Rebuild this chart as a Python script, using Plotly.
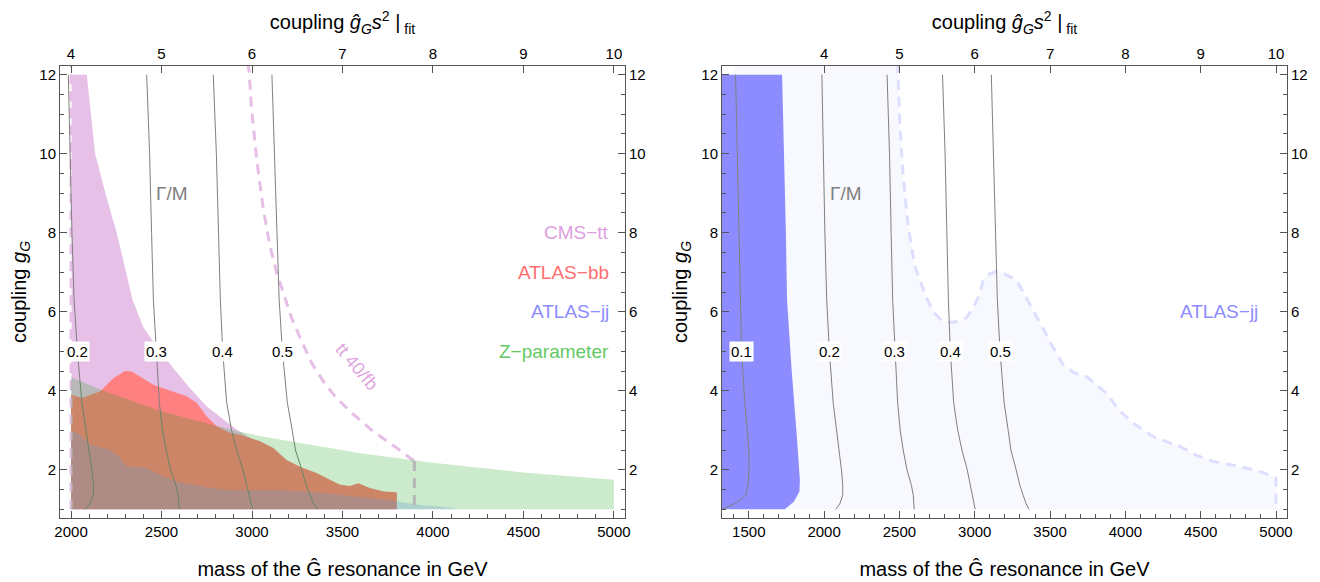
import plotly.graph_objects as go

# ---------------- data ----------------
# Gamma/M contour lines: coupling values and masses for each width ratio
GM_Y = [1.0, 1.15, 1.35, 1.6, 2.0, 2.5, 3.0, 3.7, 5.0, 6.3, 8.0, 10.0, 12.0]
GM_LINES = {
    "0.1": [1320, 1410, 1478, 1495, 1502, 1500, 1490, 1473, 1452, 1445, 1437, 1427, 1412],
    "0.2": [2078, 2105, 2123, 2124, 2115, 2098, 2080, 2060, 2035, 2017, 2005, 1995, 1985],
    "0.3": [2598, 2596, 2592, 2580, 2550, 2525, 2505, 2488, 2470, 2455, 2445, 2434, 2418],
    "0.4": [3003, 2995, 2985, 2975, 2950, 2915, 2887, 2860, 2838, 2825, 2815, 2803, 2786],
    "0.5": [3360, 3340, 3322, 3300, 3275, 3240, 3222, 3195, 3168, 3150, 3138, 3125, 3110],
}
LEFT_LINES = ["0.2", "0.3", "0.4", "0.5"]
RIGHT_LINES = ["0.1", "0.2", "0.3", "0.4", "0.5"]
LABEL_Y = 5.0

# CMS-tt excluded region (left panel)
CMS_TT_M = [2003, 2003, 2087, 2110, 2133, 2190, 2252, 2304, 2340, 2400, 2492, 2560, 2650,
            2750, 2850, 2920, 3030, 3100, 3300, 3500, 3800, 3800]
CMS_TT_G = [1.0, 12.0, 12.0, 11.0, 10.0, 9.0, 8.0, 7.0, 6.3, 5.6, 5.0, 4.6, 4.1,
            3.6, 3.25, 3.0, 2.7, 2.5, 1.9, 1.6, 1.4, 1.0]

# ATLAS-bb excluded region
ATLAS_BB_M = [2000, 2000, 2059, 2100, 2160, 2234, 2298, 2335, 2381, 2455, 2529, 2584, 2639,
              2695, 2750, 2805, 2879, 2934, 3044, 3118, 3191, 3265, 3357, 3431, 3486, 3541,
              3587, 3652, 3726, 3800, 3800]
ATLAS_BB_G = [1.0, 3.90, 3.82, 3.88, 3.98, 4.32, 4.50, 4.49, 4.36, 4.15, 4.03, 3.94, 3.86,
              3.69, 3.35, 3.10, 2.93, 2.89, 2.72, 2.55, 2.25, 2.08, 1.92, 1.75, 1.62, 1.59,
              1.66, 1.54, 1.45, 1.43, 1.0]

# ATLAS-jj excluded region (left panel)
ATLAS_JJ_L_M = [2000, 2000, 2050, 2105, 2160, 2215, 2271, 2308, 2363, 2418, 2492, 2584, 2676,
                2768, 2860, 2971, 3118, 3302, 3486, 3670, 3800, 3928, 4039, 4100, 4150]
ATLAS_JJ_L_G = [1.0, 3.01, 2.89, 2.63, 2.57, 2.51, 2.30, 2.08, 2.08, 2.04, 1.87, 1.70, 1.62,
                1.54, 1.49, 1.49, 1.49, 1.45, 1.37, 1.28, 1.20, 1.11, 1.07, 1.04, 1.0]

# Z-parameter bound (upper edge)
Z_M = [2000, 2160, 2500, 2880, 3050, 3600, 4000, 4500, 5000]
Z_G = [4.35, 4.03, 3.48, 3.02, 2.85, 2.42, 2.18, 1.93, 1.75]
Z_FLOOR = 1.0

# tt 40/fb projected reach (dashed)
TT40_LEFT_M = [2000, 2000]
TT40_LEFT_G = [1.0, 12.3]
TT40_M = [2975, 2983, 2998, 3026, 3063, 3100, 3137, 3173, 3219, 3260, 3330, 3394, 3459,
          3541, 3670, 3800, 3897]
TT40_G = [12.3, 12.13, 11.11, 9.85, 8.58, 7.65, 6.98, 6.47, 5.84, 5.40, 4.70, 4.24, 3.86,
          3.48, 2.97, 2.55, 2.22]
TT40_DROP_M = [3897, 3897]
TT40_DROP_G = [2.22, 1.0]

# Right panel: ATLAS-jj present exclusion (solid) and projection (dashed, light)
JJ_NOW_M = [1300, 1300, 1721, 1735, 1746, 1754, 1783, 1817, 1839, 1836, 1800, 1739]
JJ_NOW_G = [1.0, 12.0, 12.0, 10.0, 8.0, 6.3, 4.6, 2.93, 1.75, 1.45, 1.2, 1.0]
JJ_PROJ_M = [2488, 2491, 2503, 2525, 2558, 2602, 2680, 2724, 2780, 2835, 2900, 2945, 2990,
             3034, 3056, 3100, 3145, 3200, 3278, 3322, 3400, 3454, 3520, 3587, 3660, 3742,
             3875, 3960, 4052, 4185, 4362, 4470, 4583, 4760, 4900, 5000, 5000]
JJ_PROJ_G = [12.3, 12.0, 10.69, 9.43, 8.16, 7.15, 6.35, 6.0, 5.78, 5.73, 5.76, 5.85, 6.1,
             6.45, 6.8, 6.96, 7.02, 6.95, 6.8, 6.5, 5.95, 5.54, 5.1, 4.66, 4.45, 4.36,
             3.94, 3.5, 3.18, 2.84, 2.59, 2.37, 2.21, 2.08, 1.95, 1.79, 1.0]
JJ_PROJ_START = 1400

# axes
X_RANGE_L = [1939, 5061]
X_RANGE_R = [1322, 5073]
Y_RANGE = [0.78, 12.22]
MASS_TICKS_L = [2000, 2500, 3000, 3500, 4000, 4500, 5000]
MASS_TICKS_R = [1500, 2000, 2500, 3000, 3500, 4000, 4500, 5000]
TOP_TICKVALS = [2000, 2500, 3000, 3500, 4000, 4500, 5000]
TOP_TICKTEXT = ["4", "5", "6", "7", "8", "9", "10"]
Y_TICKS = [2, 4, 6, 8, 10, 12]

# ---------------- styles ----------------
FONT = "Liberation Sans, Arial, sans-serif"
PINK = "rgb(230,192,230)"
RED = "rgb(255,128,128)"
BLUE_L = "rgba(134,155,255,0.3)"
GREEN = "rgba(0,155,0,0.2)"
CONTOUR = "rgb(128,128,128)"
TT_DASH = "rgb(230,190,230)"
LAV_FILL = "rgb(248,248,255)"
LAV_DASH = "rgb(222,222,255)"
BLUE_R = "rgb(140,140,255)"
FRAME = "#555555"

fig = go.Figure()


def poly(xs, ys, color, xa, ya):
    fig.add_trace(go.Scatter(x=xs, y=ys, fill="toself", fillcolor=color, mode="lines",
                             line=dict(width=0, color=color), hoverinfo="skip",
                             showlegend=False, xaxis=xa, yaxis=ya))


def line(xs, ys, color, width, dash, xa, ya):
    fig.add_trace(go.Scatter(x=xs, y=ys, mode="lines", line=dict(color=color, width=width, dash=dash),
                             hoverinfo="skip", showlegend=False, xaxis=xa, yaxis=ya))


# ---- left panel ----
poly(CMS_TT_M, CMS_TT_G, PINK, "x", "y")
poly(ATLAS_BB_M, ATLAS_BB_G, RED, "x", "y")
poly(ATLAS_JJ_L_M, ATLAS_JJ_L_G, BLUE_L, "x", "y")
line(TT40_LEFT_M, TT40_LEFT_G, TT_DASH, 3, "10px,7px", "x", "y")
line(TT40_M, TT40_G, TT_DASH, 3, "10px,7px", "x", "y")
line(TT40_DROP_M, TT40_DROP_G, TT_DASH, 3, "10px,7px", "x", "y")
for k in LEFT_LINES:
    line(GM_LINES[k], GM_Y, CONTOUR, 1, "solid", "x", "y")
poly(Z_M + [Z_M[-1], Z_M[0]], Z_G + [Z_FLOOR, Z_FLOOR], GREEN, "x", "y")

# ---- right panel ----
poly([JJ_PROJ_START] + JJ_PROJ_M + [JJ_PROJ_START], [JJ_PROJ_G[0]] + JJ_PROJ_G + [1.0],
     LAV_FILL, "x2", "y2")
line(JJ_PROJ_M, JJ_PROJ_G, LAV_DASH, 3, "10px,7px", "x2", "y2")
poly(JJ_NOW_M, JJ_NOW_G, BLUE_R, "x2", "y2")
for k in RIGHT_LINES:
    line(GM_LINES[k], GM_Y, CONTOUR, 1, "solid", "x2", "y2")

# dummy traces so the overlaying axes are drawn
for xa, ya in [("x3", "y"), ("x4", "y2"), ("x", "y3"), ("x2", "y4")]:
    fig.add_trace(go.Scatter(x=[3000], y=[-50], mode="markers", marker=dict(opacity=0),
                             hoverinfo="skip", showlegend=False, xaxis=xa, yaxis=ya))

# ---------------- layout ----------------
# the page body adds an 8 px margin, so positions are given relative to it
W, H, OFF = 1320, 582, 8
XD_L = [(60 - OFF) / W, (625 - OFF) / W]
XD_R = [(722 - OFF) / W, (1287 - OFF) / W]
YD = [1 - (518 - OFF) / H, 1 - (66 - OFF) / H]

tickfont = dict(family=FONT, size=15, color="black")
titlefont = dict(family=FONT, size=20, color="black")
minor_x = dict(ticks="inside", ticklen=4, dtick=100, tickcolor=FRAME, tickwidth=1)
minor_y = dict(ticks="inside", ticklen=4, dtick=0.5, tickcolor=FRAME, tickwidth=1)

common_x = dict(showgrid=False, zeroline=False, showline=True, linecolor=FRAME, linewidth=1,
                ticks="inside", ticklen=7, tickcolor=FRAME, tickfont=tickfont, mirror=False,
                automargin=False)
common_y = dict(showgrid=False, zeroline=False, showline=True, linecolor=FRAME, linewidth=1,
                ticks="inside", ticklen=7, tickcolor=FRAME, tickfont=tickfont, mirror=False,
                range=Y_RANGE, tickvals=Y_TICKS, minor=minor_y, automargin=False)

mass_title = dict(text="mass of the Ĝ resonance in GeV", font=titlefont, standoff=22)
top_title = dict(text="coupling <i>ĝ</i><sub><i>G</i></sub><i>s</i><sup>2</sup> |<sub> fit</sub>",
                 font=titlefont, standoff=14)
y_title = dict(text="coupling <i>g</i><sub><i>G</i></sub>", font=titlefont, standoff=8)

fig.update_layout(
    width=W, height=H,
    margin=dict(l=0, r=0, t=0, b=0, autoexpand=False),
    paper_bgcolor="white", plot_bgcolor="white",
    font=dict(family=FONT),
    xaxis=dict(common_x, domain=XD_L, anchor="y", range=X_RANGE_L, tickvals=MASS_TICKS_L,
               minor=minor_x, title=mass_title),
    yaxis=dict(common_y, domain=YD, anchor="x", title=y_title),
    xaxis2=dict(common_x, domain=XD_R, anchor="y2", range=X_RANGE_R, tickvals=MASS_TICKS_R,
                minor=minor_x, title=mass_title),
    yaxis2=dict(common_y, domain=YD, anchor="x2", title=y_title),
    xaxis3=dict(common_x, overlaying="x", side="top", anchor="y", range=X_RANGE_L,
                tickvals=TOP_TICKVALS, ticktext=TOP_TICKTEXT, title=top_title),
    xaxis4=dict(common_x, overlaying="x2", side="top", anchor="y2", range=X_RANGE_R,
                tickvals=TOP_TICKVALS, ticktext=TOP_TICKTEXT, title=top_title),
    yaxis3=dict(common_y, overlaying="y", side="right", anchor="x"),
    yaxis4=dict(common_y, overlaying="y2", side="right", anchor="x2"),
)

ann_font = lambda c, s=19: dict(family=FONT, size=s, color=c)
annotations = []
# region labels (left)
for txt, gy, col in [("CMS−tt", 8, "rgb(222,160,222)"), ("ATLAS−bb", 7, "rgb(255,110,110)"),
                     ("ATLAS−jj", 6, "rgb(140,140,255)"), ("Z−parameter", 5, "rgb(100,200,100)")]:
    annotations.append(dict(x=4985, y=gy, xref="x", yref="y", text=txt, showarrow=False,
                            xanchor="right", yanchor="middle", font=ann_font(col)))
annotations.append(dict(x=4893, y=6, xref="x2", yref="y2", text="ATLAS−jj", showarrow=False,
                        xanchor="right", yanchor="middle", font=ann_font("rgb(140,140,255)")))
annotations.append(dict(x=2558, y=9, xref="x", yref="y", text="Γ/M", showarrow=False,
                        font=ann_font("rgb(128,128,128)")))
annotations.append(dict(x=2144, y=9, xref="x2", yref="y2", text="Γ/M", showarrow=False,
                        font=ann_font("rgb(128,128,128)")))
annotations.append(dict(x=3580, y=4.6, xref="x", yref="y", text="tt 40/fb", showarrow=False,
                        textangle=50, font=ann_font("rgb(225,165,225)", 18)))
iy = GM_Y.index(LABEL_Y)
for k in LEFT_LINES:
    annotations.append(dict(x=GM_LINES[k][iy], y=LABEL_Y, xref="x", yref="y", text=k,
                            showarrow=False, bgcolor="white", borderpad=1,
                            font=ann_font("black", 15)))
for k in RIGHT_LINES:
    annotations.append(dict(x=GM_LINES[k][iy], y=LABEL_Y, xref="x2", yref="y2", text=k,
                            showarrow=False, bgcolor="white", borderpad=1,
                            font=ann_font("black", 15)))
fig.update_layout(annotations=annotations)

fig.write_html("out.html")
